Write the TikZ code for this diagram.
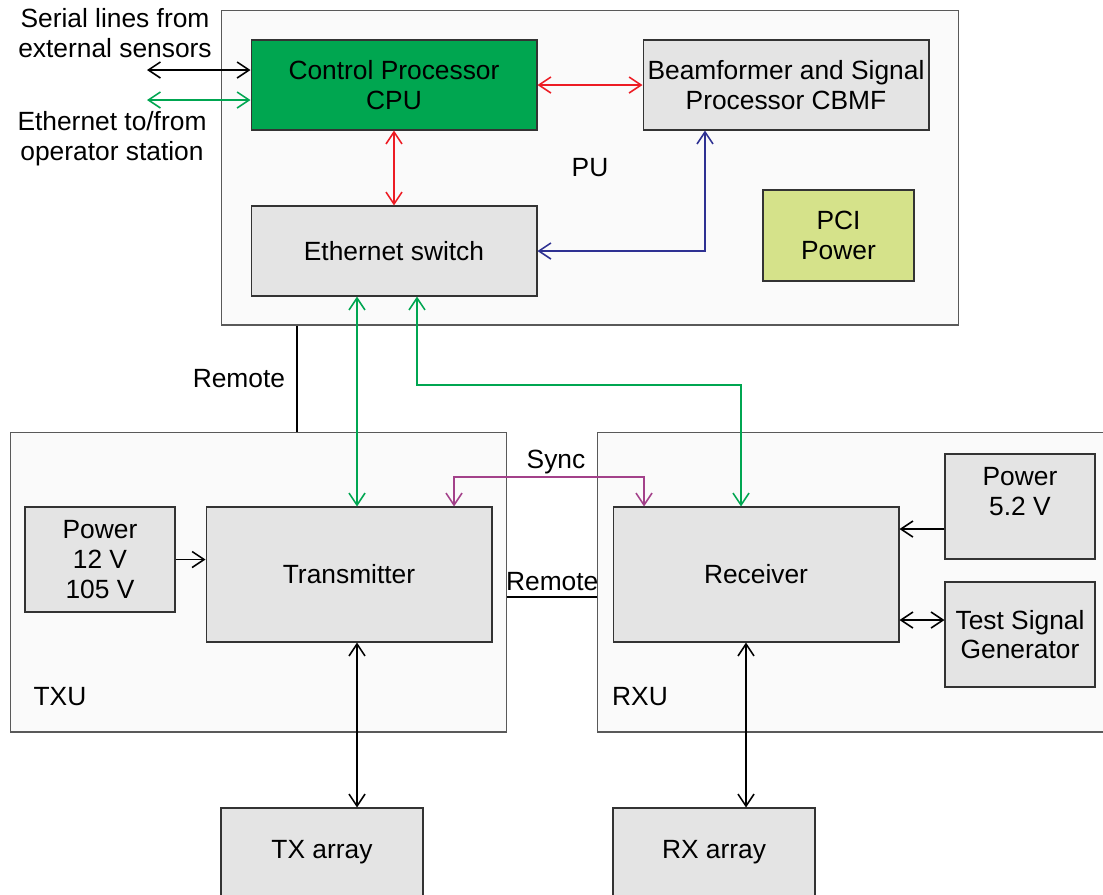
\documentclass[tikz,border=0pt]{standalone}
\usepackage{fontspec}
\setmainfont{Liberation Sans}
\usepackage{tikz}
\usetikzlibrary{arrows.meta}
\usepackage{color}

\definecolor{cpugreen}{HTML}{00A650}
\definecolor{boxgray}{HTML}{E4E4E4}
\definecolor{unitgray}{HTML}{FAFAFA}
\definecolor{pcigreen}{HTML}{D5E28A}
\definecolor{linkred}{HTML}{ED1C24}
\definecolor{linkblue}{HTML}{2E3192}
\definecolor{linkgreen}{HTML}{00A651}
\definecolor{syncpurple}{HTML}{A3418A}

\begin{document}
\begin{tikzpicture}[
            x=0.02cm, y=-0.02cm,
            font=\fontsize{15}{17}\selectfont,
            >={Straight Barb[length=2.4mm,width=3.2mm]},
        unit/.style={rectangle,draw=black!65,fill=unitgray,line width=0.6pt,inner sep=0pt},
        block/.style={rectangle,draw=black!80,fill=boxgray,line width=0.6pt,align=center,inner sep=0pt},
        link/.style={line width=0.9pt}
                                ]
          \clip (0,0) rectangle (1103,894);
          \fill[white] (0,0) rectangle (1103,894);

          % units
          \node[unit,minimum width=14.76cm,minimum height=6.3cm] (pu) at (590,167.5) {};
          \node[unit,minimum width=9.94cm,minimum height=6cm] (txu) at (258.5,582) {};
          \node[unit,minimum width=10.3cm,minimum height=6cm] (rxu) at (855,582) {};

          % PU
          \node[block,fill=cpugreen,minimum width=5.72cm,minimum height=1.8cm] (cpu) at (394,85) {Control Processor\\CPU};
          \node[block,minimum width=5.72cm,minimum height=1.8cm] (cbmf) at (786,85) {Beamformer and Signal\\Processor CBMF};
          \node[block,minimum width=5.72cm,minimum height=1.8cm] (switch) at (394,251) {Ethernet switch};
          \node[block,fill=pcigreen,minimum width=3.02cm,minimum height=1.82cm] (pci) at (838.5,235.5) {PCI\\Power};
          \node (pulabel) at (590,168) {PU};

          % TXU / RXU
          \node[block,minimum width=3cm,minimum height=2.1cm] (ptx) at (100,559.5) {Power\\12 V\\105 V};
          \node[block,minimum width=5.72cm,minimum height=2.7cm] (tx) at (349,574.5) {Transmitter};
          \node[block,minimum width=5.72cm,minimum height=2.7cm] (rx) at (756,574.5) {Receiver};
          \node[block,minimum width=3cm,minimum height=2.1cm] (prx) at (1020,506.5) {Power\\5.2 V\\\mbox{}};
          \node[block,minimum width=3cm,minimum height=2.1cm] (tsg) at (1020,634.5) {Test Signal\\Generator};
          \node (txulabel) at (60,697) {TXU};
          \node (rxulabel) at (640,697) {RXU};

          % arrays
          \node[block,minimum width=4.04cm,minimum height=1.76cm] (txarr) at (322,852) {TX array};
          \node[block,minimum width=4.04cm,minimum height=1.76cm] (rxarr) at (714,852) {RX array};

          % outside
          \node[align=center] (serial) at (115,33) {Serial lines from\\external sensors};
          \node[align=center] (operator) at (112,139) {Ethernet to/from\\operator station};
          \coordinate (serend) at (147,70);
          \coordinate (ethend) at (147,100);

          \draw[link,<->] (serend) -- (cpu.west |- serend);
          \draw[link,<->,linkgreen] (ethend) -- (cpu.west |- ethend);

          \path[link,<->,linkred]
            (cpu.east) edge (cbmf.west)
            (cpu.south) edge (switch.north);
          \draw[link,<->,linkblue] (switch.east) -| (cbmf.south -| 705,0);

          \draw[link,<->,linkgreen] (switch.south -| 357,0) -- (tx.north -| 357,0);
          \draw[link,<->,linkgreen] (switch.south -| 417,0) |- (580,385) -| (rx.north -| 741,0);
          \draw[link,<->,syncpurple] (tx.north -| 454,0) |- (556,477) node[above=-2pt,text=black] (sync) {Sync} -| (rx.north -| 644,0);

          \draw[link] (pu.south -| 297,0) -- node[left=3pt] (remotea) {Remote} (txu.north -| 297,0);
          \draw[link] (txu.east |- 0,597) -- node[above=0pt] (remoteb) {Remote} (rxu.west |- 0,597);

          \draw[link,->] (ptx.east) -- (tx.west |- ptx.east);
          \draw[link,->] (prx.west |- 0,529) -- (rx.east |- 0,529);
          \draw[link,<->] (rx.east |- 0,620) -- (tsg.west |- 0,620);
          \draw[link,<->] (tx.south -| 357,0) -- (txarr.north -| 357,0);
          \draw[link,<->] (rx.south -| 746,0) -- (rxarr.north -| 746,0);
    \end{tikzpicture}
\end{document}
